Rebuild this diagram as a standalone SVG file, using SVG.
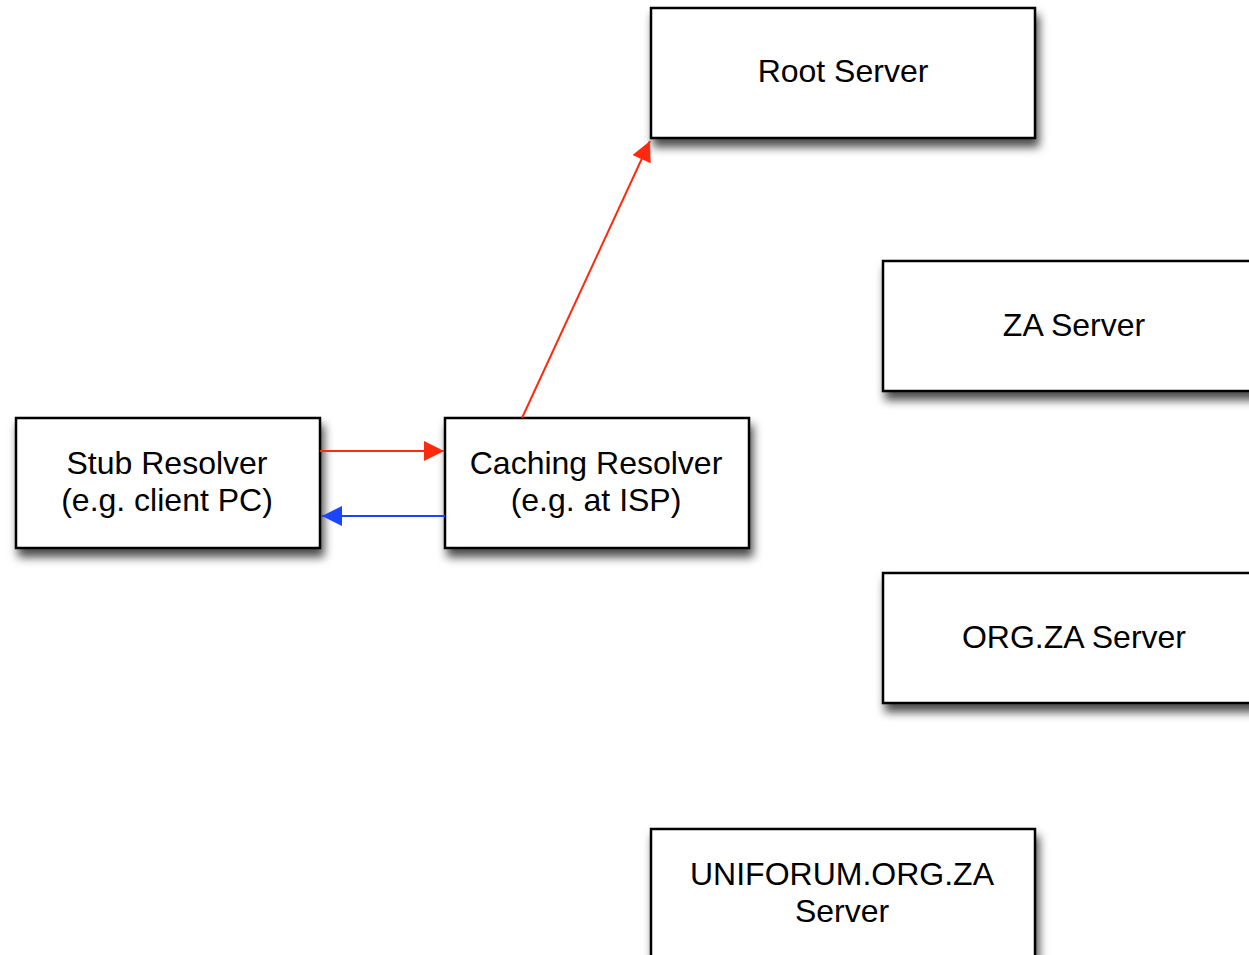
<svg xmlns="http://www.w3.org/2000/svg" width="1249" height="955" viewBox="0 0 1249 955">
<style>
.box{fill:#fff;stroke:#000;stroke-width:2.5;filter:url(#sh)}
text{font-family:"Liberation Sans",Arial,Helvetica,sans-serif;font-size:32px;fill:#000;text-anchor:middle}
.red{stroke:#ff2a0e;stroke-width:2;fill:none}
.blue{stroke:#1a44ff;stroke-width:2;fill:none}
</style>
<defs>
<filter id="sh" x="-20%" y="-20%" width="140%" height="150%">
<feDropShadow dx="3" dy="8" stdDeviation="5" flood-color="#000" flood-opacity="0.7"/>
</filter>
<marker id="ar" viewBox="0 0 10 10" refX="10" refY="5" markerWidth="28" markerHeight="20" markerUnits="userSpaceOnUse" orient="auto">
<path d="M0,0 L10,5 L0,10 z" fill="#ff2a0e"/>
</marker>
<marker id="ab" viewBox="0 0 10 10" refX="10" refY="5" markerWidth="28" markerHeight="20" markerUnits="userSpaceOnUse" orient="auto">
<path d="M0,0 L10,5 L0,10 z" fill="#1a44ff"/>
</marker>
</defs>
<rect width="1249" height="955" fill="#fff"/>
<g id="root"><rect class="box" x="651" y="8" width="384" height="130"/><text x="843" y="82">Root Server</text></g>
<g id="za"><rect class="box" x="883" y="261" width="384" height="130"/><text x="1074" y="336">ZA Server</text></g>
<g id="orgza"><rect class="box" x="883" y="573" width="384" height="130"/><text x="1074" y="648">ORG.ZA Server</text></g>
<g id="uniforum"><rect class="box" x="651" y="829" width="384" height="160"/><text x="842" y="885">UNIFORUM.ORG.ZA</text><text x="842" y="922">Server</text></g>
<g id="stub"><rect class="box" x="16" y="418" width="304" height="130"/><text x="167" y="474">Stub Resolver</text><text x="167" y="511">(e.g. client PC)</text></g>
<g id="caching"><rect class="box" x="445" y="418" width="304" height="130"/><text x="596" y="474">Caching Resolver</text><text x="596" y="511">(e.g. at ISP)</text></g>
<g id="connectors">
<line class="red" x1="320" y1="451" x2="444" y2="451" marker-end="url(#ar)"/>
<line class="blue" x1="445" y1="516" x2="322" y2="516" marker-end="url(#ab)"/>
<line class="red" x1="522" y1="418" x2="650" y2="141" marker-end="url(#ar)"/>
</g>
</svg>
